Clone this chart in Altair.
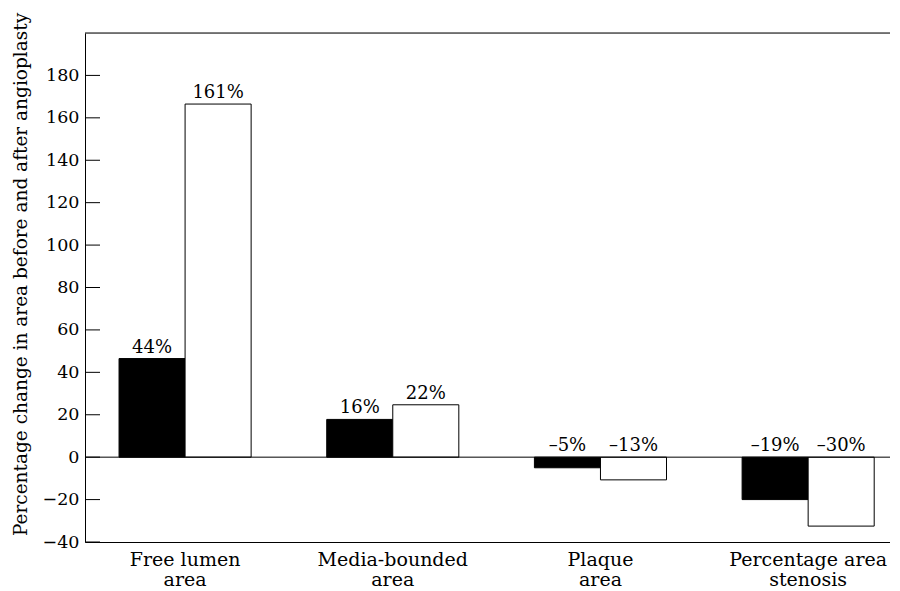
import altair as alt
import pandas as pd

categories = ["Free lumen\narea", "Media-bounded\narea", "Plaque\narea", "Percentage area\nstenosis"]
series = ["Series A", "Series B"]
values_a = [46.5, 17.8, -5.0, -20.0]
values_b = [166.5, 24.7, -10.7, -32.5]
labels_a = ["44%", "16%", "\u20135%", "\u201319%"]
labels_b = ["161%", "22%", "\u201313%", "\u201330%"]
y_ticks = [-40, -20, 0, 20, 40, 60, 80, 100, 120, 140, 160, 180]
y_title = "Percentage change in area before and after angioplasty"

rows = []
for c, va, vb, la, lb in zip(categories, values_a, values_b, labels_a, labels_b):
    rows.append({"category": c, "series": series[0], "value": va, "label": la, "ypos": max(va, 0)})
    rows.append({"category": c, "series": series[1], "value": vb, "label": lb, "ypos": max(vb, 0)})
df = pd.DataFrame(rows)

W, H = 805, 509
FONT = "DejaVu Serif"

xscale = alt.Scale(domain=categories, paddingInner=0.364, paddingOuter=0.12, align=0.683)
yscale = alt.Scale(domain=[-40, 200], nice=False, zero=False)
xoff = alt.XOffset("series:N", sort=series, scale=alt.Scale(domain=series, paddingInner=0, paddingOuter=0))

ax_x = alt.Axis(title=None, labelAngle=0, ticks=False, domain=True, domainColor="black", domainOpacity=1,
                labelExpr="split(datum.value, '\\n')", labelLineHeight=20,
                labelPadding=8, labelBaseline="top", labelFont=FONT, labelFontSize=19,
                labelColor="black", grid=False)
ax_y = alt.Axis(title=y_title, values=y_ticks, ticks=False, grid=False, domainColor="black",
                labelPadding=6, labelFont=FONT, labelFontSize=17.5, labelColor="black",
                titleFont=FONT, titleFontSize=18.5, titleFontWeight="normal", titleColor="black",
                titleX=-59, titleY=241, titleBaseline="alphabetic", titleAlign="center")

X = alt.X("category:N", sort=categories, scale=xscale, axis=ax_x)

bars = alt.Chart(df).mark_bar(stroke="black", strokeWidth=1).encode(
    x=X,
    xOffset=xoff,
    y=alt.Y("value:Q", scale=yscale, axis=ax_y),
    color=alt.Color("series:N", scale=alt.Scale(domain=series, range=["black", "white"]), legend=None),
)

texts = alt.Chart(df).mark_text(font=FONT, fontSize=18, baseline="alphabetic", dy=-6, color="black").encode(
    x=X,
    xOffset=xoff,
    y=alt.Y("ypos:Q", scale=yscale, axis=ax_y),
    text="label:N",
)

lines_df = pd.DataFrame({"y": [0, 200]})
hlines = alt.Chart(lines_df).mark_rule(color="black", strokeWidth=1).encode(
    y=alt.Y("y:Q", scale=yscale, axis=ax_y)
)

ticks_df = pd.DataFrame({"t": y_ticks})
ticks = alt.Chart(ticks_df).mark_rule(color="black", strokeWidth=1).encode(
    y=alt.Y("t:Q", scale=yscale, axis=ax_y),
    x=alt.value(0),
    x2=alt.value(15),
)

chart = alt.layer(bars, hlines, ticks, texts).properties(
    width=W, height=H,
    autosize=alt.AutoSizeParams(type="none"),
    padding={"left": 77, "top": 25, "right": 0, "bottom": 47},
).configure_view(stroke=None).configure(background="white")

chart.save("out.html", embed_options={"renderer": "svg", "actions": False})
